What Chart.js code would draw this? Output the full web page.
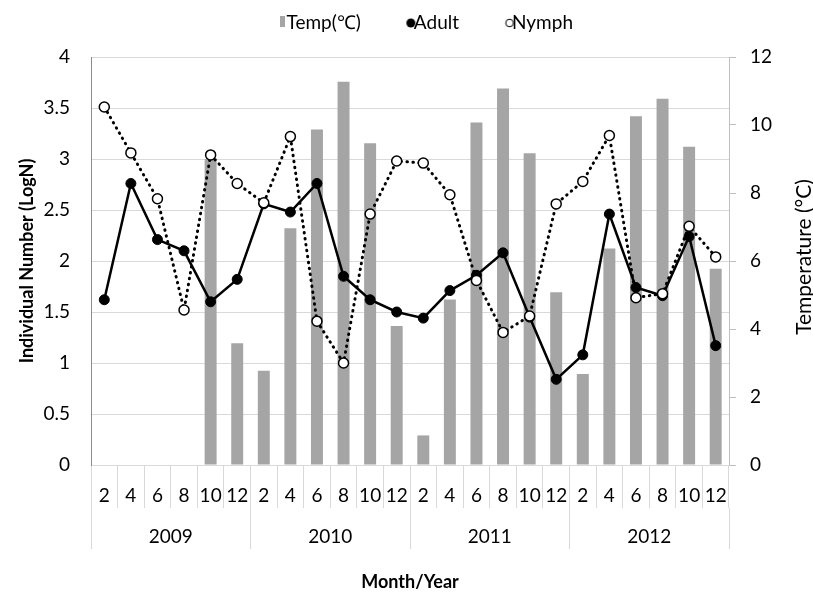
<!DOCTYPE html>
<html>
<head>
<meta charset="utf-8">
<script src="https://cdn.jsdelivr.net/npm/chart.js@4.4.1/dist/chart.umd.min.js"></script>
<style>
  html, body { margin: 0; padding: 0; background: #fff; }
  #wrap { width: 813px; height: 596px; }
</style>
</head>
<body>
<div id="wrap"><canvas id="c" width="813" height="596"></canvas></div>
<script>
// ---- data ----
const months = ['2','4','6','8','10','12','2','4','6','8','10','12','2','4','6','8','10','12','2','4','6','8','10','12'];
const years = ['2009','2010','2011','2012'];
const tempC = [null,null,null,null,9.0,3.58,2.77,6.96,9.87,11.27,9.46,4.09,0.87,4.87,10.07,11.07,9.17,5.08,2.68,6.37,10.26,10.77,9.36,5.77];
const adult = [1.62,2.76,2.21,2.10,1.60,1.82,2.56,2.48,2.76,1.85,1.62,1.50,1.44,1.71,1.86,2.08,1.45,0.84,1.08,2.46,1.74,1.66,2.24,1.17];
const nymph = [3.51,3.06,2.61,1.52,3.04,2.76,2.57,3.22,1.41,1.00,2.46,2.98,2.96,2.65,1.81,1.30,1.46,2.56,2.78,3.23,1.64,1.68,2.34,2.04];
const seriesNames = ['Temp(℃)', 'Adult', 'Nymph'];
const leftTitle = 'Individual Number (LogN)';
const rightTitle = 'Temperature (°C)';
const xTitle = 'Month/Year';

Chart.defaults.font.family = 'Lato, "Open Sans", sans-serif';
Chart.defaults.color = '#000';

// legend marker canvases (marker drawn near the right edge so it sits close to its text)
function marker(kind) {
  const c = document.createElement('canvas');
  c.width = 54; c.height = 20;
  const g = c.getContext('2d');
  if (kind === 'bar') {
    g.fillStyle = '#a5a5a5';
    g.fillRect(45, 3, 5, 11);
  } else if (kind === 'filled') {
    g.fillStyle = '#000';
    g.beginPath(); g.arc(48.5, 10, 4.5, 0, Math.PI * 2); g.fill();
  } else {
    g.fillStyle = '#fff'; g.strokeStyle = '#000'; g.lineWidth = 1;
    g.beginPath(); g.arc(49, 10, 3.8, 0, Math.PI * 2); g.fill(); g.stroke();
  }
  return c;
}
const markers = [marker('bar'), marker('filled'), marker('open')];

const legendPatch = {
  id: 'legendPatch',
  beforeLayout(chart) {
    const lg = chart.legend;
    if (lg && !lg._patched) {
      const f = lg.fit.bind(lg);
      lg.fit = function () { f(); this.height = 57; };
      lg._patched = true;
    }
  }
};

const rightTitlePlugin = {
  id: 'rightTitle',
  afterDraw(chart) {
    const s = chart.scales.y1;
    const ca = chart.chartArea;
    const ctx = chart.ctx;
    ctx.save();
    ctx.translate(s.right - 9, (ca.top + ca.bottom) / 2 - 4);
    ctx.rotate(-Math.PI / 2);
    ctx.font = '21px Lato, "Open Sans", sans-serif';
    ctx.fillStyle = '#000';
    ctx.textAlign = 'center';
    ctx.textBaseline = 'middle';
    ctx.fillText(rightTitle, 0, 0);
    ctx.restore();
  }
};

new Chart(document.getElementById('c'), {
  type: 'bar',
  data: {
    labels: months,
    datasets: [
      {
        type: 'bar', label: seriesNames[0], data: tempC, yAxisID: 'y1', xAxisID: 'x',
        backgroundColor: '#a5a5a5', borderWidth: 0,
        barPercentage: 0.45, categoryPercentage: 1.0, order: 3
      },
      {
        type: 'line', label: seriesNames[1], data: adult, yAxisID: 'y', xAxisID: 'x',
        borderColor: '#000', borderWidth: 2.5, tension: 0,
        pointRadius: 5, pointBackgroundColor: '#000', pointBorderColor: '#000', pointBorderWidth: 1,
        order: 2
      },
      {
        type: 'line', label: seriesNames[2], data: nymph, yAxisID: 'y', xAxisID: 'x',
        borderColor: '#000', borderWidth: 3, tension: 0,
        borderDash: [0.5, 5.5], borderCapStyle: 'round',
        pointRadius: 5, pointBackgroundColor: '#fff', pointBorderColor: '#000', pointBorderWidth: 1.5,
        order: 1
      }
    ]
  },
  options: {
    responsive: false,
    animation: false,
    layout: { padding: 0 },
    plugins: {
      tooltip: { enabled: false },
      legend: {
        display: true,
        position: 'top',
        fullSize: false,
        labels: {
          usePointStyle: true,
          pointStyleWidth: 30,
          padding: 13.5,
          font: { size: 19 },
          color: '#000',
          generateLabels: (chart) => seriesNames.map((t, i) => ({
            text: t, datasetIndex: i, hidden: false,
            pointStyle: markers[i], fillStyle: '#000', strokeStyle: '#000',
            lineWidth: 0, fontColor: '#000'
          }))
        }
      }
    },
    scales: {
      x: {
        type: 'category',
        position: 'bottom',
        offset: true,
        weight: 0,
        grid: { display: true, drawOnChartArea: false, drawTicks: true, tickLength: 43, offset: true, color: '#d9d9d9' },
        border: { display: true, color: '#d9d9d9' },
        ticks: { autoSkip: false, maxRotation: 0, minRotation: 0, padding: -24, font: { size: 19 } },
        afterFit: (s) => { s.height = 43; }
      },
      x2: {
        type: 'category',
        labels: years,
        position: 'bottom',
        offset: true,
        weight: 1,
        grid: { display: true, drawOnChartArea: false, drawTicks: true, tickLength: 41, offset: true, color: '#d9d9d9' },
        border: { display: false },
        ticks: { autoSkip: false, maxRotation: 0, minRotation: 0, padding: -24, font: { size: 19 } },
        title: { display: true, text: xTitle, font: { size: 18, weight: 'bold' }, padding: { top: 0, bottom: 3 } },
        afterFit: (s) => { s.height = 88; }
      },
      y: {
        type: 'linear',
        position: 'left',
        min: 0, max: 4,
        ticks: { stepSize: 0.5, padding: 21, font: { size: 19 }, callback: (v) => String(Math.round(v * 10) / 10) },
        grid: { color: '#d9d9d9', drawTicks: false },
        border: { display: true, color: '#8c8c8c' },
        title: { display: true, text: leftTitle, font: { size: 18, weight: 'bold' }, padding: { top: 16, bottom: 0 } },
        afterFit: (s) => { s.width = 91; s.paddingTop = 57; }
      },
      y1: {
        type: 'linear',
        position: 'right',
        min: 0, max: 12,
        ticks: { stepSize: 2, padding: 14, font: { size: 19 }, callback: (v) => String(v) },
        grid: { drawOnChartArea: false, drawTicks: true, tickLength: 7, color: '#bfbfbf' },
        border: { display: true, color: '#bfbfbf' },
        afterFit: (s) => { s.width = 84; }
      }
    }
  },
  plugins: [legendPatch, rightTitlePlugin]
});
</script>
</body>
</html>
